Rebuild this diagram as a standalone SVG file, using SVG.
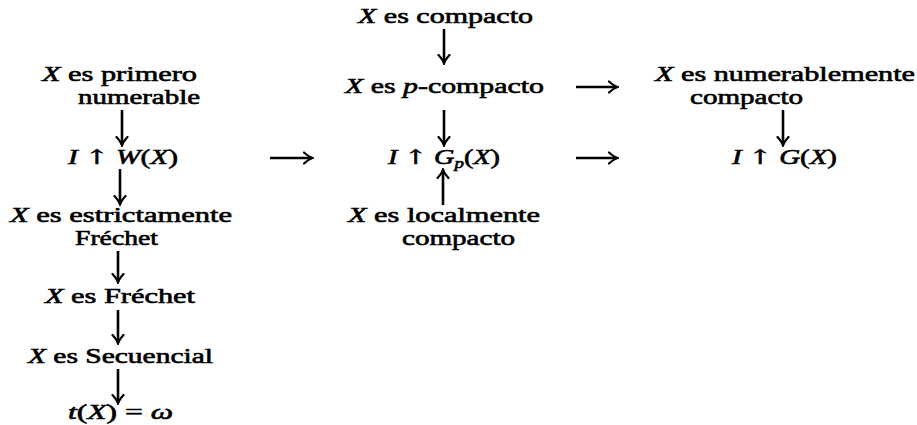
<svg xmlns="http://www.w3.org/2000/svg" width="917" height="425" viewBox="0 0 917 425">
<style>
text{font-family:"Liberation Serif","DejaVu Serif",serif;font-size:21px;fill:#000;stroke:#000;stroke-width:0.6}
.i{font-style:italic}
.sub{font-size:14px;font-style:italic}
.up{font-family:"DejaVu Serif",serif;font-size:20px}
.ar{fill:none;stroke:#000;stroke-width:2.6;marker-end:url(#tip)}
</style>
<defs>
<marker id="tip" viewBox="-9 -7 11 14" refX="0" refY="0" markerWidth="11" markerHeight="14" markerUnits="userSpaceOnUse" orient="auto">
<path d="M-8,-5.5 Q-3,-1 0.5,0 Q-3,1 -8,5.5" fill="none" stroke="#000" stroke-width="2.2" stroke-linecap="round"/>
</marker>
</defs>
<rect width="917" height="425" fill="#fff"/>
<g id="compacto"><text x="358" y="23" textLength="175" lengthAdjust="spacingAndGlyphs"><tspan class="i">X</tspan> es compacto</text></g>
<g id="pcompacto"><text x="345" y="93" textLength="199" lengthAdjust="spacingAndGlyphs"><tspan class="i">X</tspan> es <tspan class="i">p</tspan>-compacto</text></g>
<g id="numerablemente"><text x="655" y="81" textLength="260" lengthAdjust="spacingAndGlyphs"><tspan class="i">X</tspan> es numerablemente</text><text x="690" y="104" textLength="113" lengthAdjust="spacingAndGlyphs">compacto</text></g>
<g id="primero"><text x="42" y="81" textLength="155" lengthAdjust="spacingAndGlyphs"><tspan class="i">X</tspan> es primero</text><text x="78" y="104" textLength="122" lengthAdjust="spacingAndGlyphs">numerable</text></g>
<g id="IW"><text x="68" y="164" textLength="110" lengthAdjust="spacingAndGlyphs"><tspan class="i">I</tspan> <tspan class="up">↑</tspan> <tspan class="i">W</tspan>(<tspan class="i">X</tspan>)</text></g>
<g id="IGp"><text x="388" y="164" textLength="112" lengthAdjust="spacingAndGlyphs"><tspan class="i">I</tspan> <tspan class="up">↑</tspan> <tspan class="i">G</tspan><tspan class="sub" dy="4">p</tspan><tspan dy="-4">(</tspan><tspan class="i">X</tspan>)</text></g>
<g id="IG"><text x="732" y="164" textLength="105" lengthAdjust="spacingAndGlyphs"><tspan class="i">I</tspan> <tspan class="up">↑</tspan> <tspan class="i">G</tspan>(<tspan class="i">X</tspan>)</text></g>
<g id="localmente"><text x="348" y="222" textLength="192" lengthAdjust="spacingAndGlyphs"><tspan class="i">X</tspan> es localmente</text><text x="402" y="245" textLength="113" lengthAdjust="spacingAndGlyphs">compacto</text></g>
<g id="estrictamente"><text x="10" y="222" textLength="222" lengthAdjust="spacingAndGlyphs"><tspan class="i">X</tspan> es estrictamente</text><text x="75" y="245" textLength="83" lengthAdjust="spacingAndGlyphs">Fréchet</text></g>
<g id="frechet"><text x="45" y="303" textLength="150" lengthAdjust="spacingAndGlyphs"><tspan class="i">X</tspan> es Fréchet</text></g>
<g id="secuencial"><text x="28" y="363" textLength="185" lengthAdjust="spacingAndGlyphs"><tspan class="i">X</tspan> es Secuencial</text></g>
<g id="tX"><text x="68" y="419" textLength="105" lengthAdjust="spacingAndGlyphs"><tspan class="i">t</tspan>(<tspan class="i">X</tspan>) = <tspan class="i">ω</tspan></text></g>
<g id="connectors">
<path class="ar" d="M444,29 V63"/>
<path class="ar" d="M444,110 V145"/>
<path class="ar" d="M443,205 V170"/>
<path class="ar" d="M783,110 V145"/>
<path class="ar" d="M122,110 V145"/>
<path class="ar" d="M120,169 V204"/>
<path class="ar" d="M118,251 V282"/>
<path class="ar" d="M118,310 V343"/>
<path class="ar" d="M118,369 V403"/>
<path class="ar" d="M270,158 H312"/>
<path class="ar" d="M576,158 H617"/>
<path class="ar" d="M576,87 H617"/>
</g>
</svg>
